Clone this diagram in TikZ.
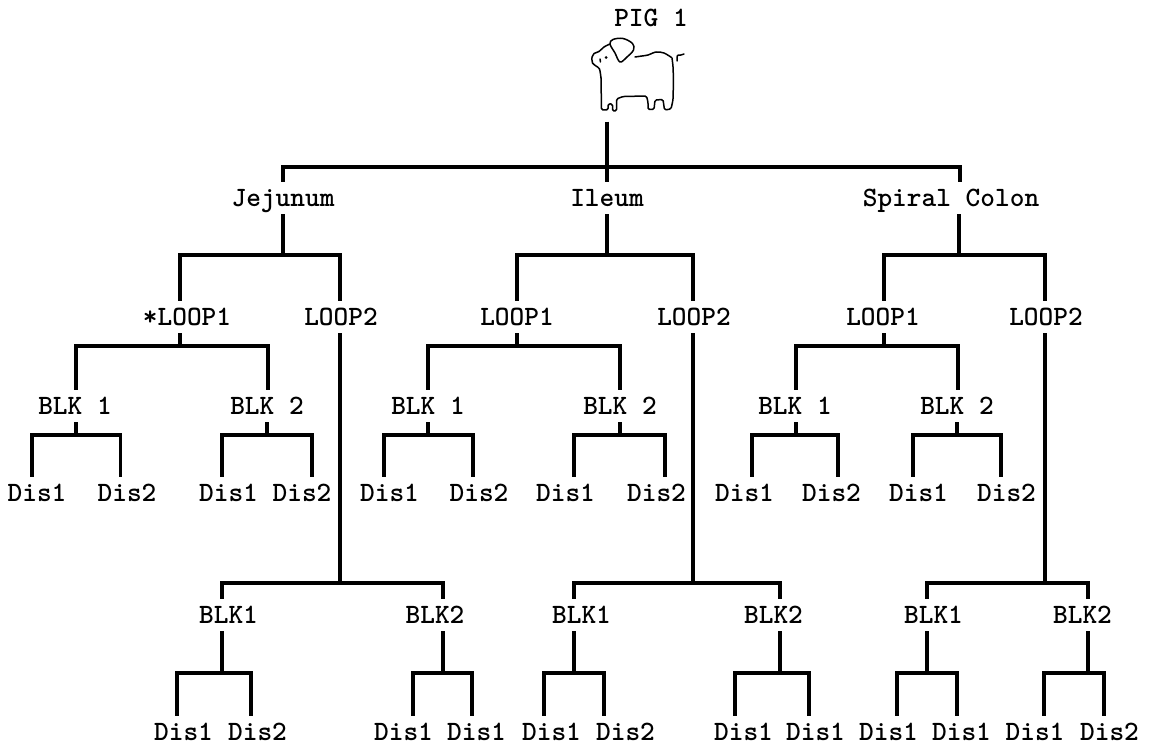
\documentclass[tikz,border=0pt]{standalone}
\begin{document}
\newcommand\kid[5]{\draw[tree] ([xshift=#2pt]#1.south) -- ++(0,#3) -| ([xshift=#5pt]#4.north);}
\begin{tikzpicture}[x=1pt,y=-1pt,
  lbl/.style={font=\fontsize{28}{28}\selectfont\ttfamily\bfseries, inner sep=0pt, text height=17pt, text depth=0pt, outer ysep=7.5pt, outer xsep=0pt},
  tree/.style={line width=3.1pt, line join=miter},
  pig/.style={line width=1.5pt, line cap=round, line join=round}]
\useasboundingbox (0,0) rectangle (1153,746);
% root
\node[lbl] (pigt) at (651,18) {PIG 1};
\draw[pig] plot[smooth cycle, tension=0.6] coordinates {(610,44) (613,39.5) (623,38.5) (632.5,43.5) (633.5,50) (627,57) (620,62) (615,53)};
\draw[pig] plot[smooth, tension=0.5] coordinates {(610,44) (604,47) (599,51.5) (594,53.5) (592,57) (592.5,63) (596,66) (599.5,69) (601,78)};
\draw[pig, rounded corners=1.5pt] (601,78) -- (601.5,110) -- (608,110) -- (608,104) -- (612.5,104) -- (612.5,111) -- (616.5,111) -- (616.5,99) -- (623,96.5) -- (646.5,96) -- (648,102) -- (648,109.5) -- (654,109.5) -- (655,100) -- (663,99.5) -- (664.5,110) -- (671,109) -- (673,100) -- (673.5,80) -- (673,66) -- (672,58);
\draw[pig] plot[smooth] coordinates {(635,57) (642,56) (648,55) (656,52) (664,53) (671.5,57.5)};
\draw[pig] plot[smooth] coordinates {(677,61) (677.5,55.5) (681,55) (684,54)};
\draw[pig] (600,59) -- (600.5,62);
\fill (606,57.5) circle (1.5pt);
\coordinate (pigf) at (607,122);
% level 1
\node[lbl] (J) at (283,198) {Jejunum};
\node[lbl] (I) at (607,198) {Ileum};
\node[lbl] (S) at (951,198) {Spiral Colon};
\draw[tree] (pigf) -- ++(0,45) -| (J.north);
\draw[tree] (pigf) -- ++(0,45) -| ([xshift=9pt]S.north);
\draw[tree] (pigf) -- (I.north);
% level 2
\node[lbl] (JL1) at (187,317) {*LOOP1};
\node[lbl] (JL2) at (341,317) {LOOP2};
\node[lbl] (IL1) at (517,317) {LOOP1};
\node[lbl] (IL2) at (694,317) {LOOP2};
\node[lbl] (SL1) at (883,317) {LOOP1};
\node[lbl] (SL2) at (1046,317) {LOOP2};
\kid{J}{0}{41}{JL1}{-7}
\kid{J}{0}{41}{JL2}{-1}
\kid{I}{0}{41}{IL1}{0}
\kid{I}{0}{41}{IL2}{-1}
\kid{S}{8}{41}{SL1}{1}
\kid{S}{8}{41}{SL2}{-1}
% level 3 (LOOP1 blocks)
\node[lbl] (JB1) at (75,406) {BLK 1};
\node[lbl] (JB2) at (267,406) {BLK 2};
\node[lbl] (IB1) at (428,406) {BLK 1};
\node[lbl] (IB2) at (620,406) {BLK 2};
\node[lbl] (SB1) at (795,406) {BLK 1};
\node[lbl] (SB2) at (957,406) {BLK 2};
\kid{JL1}{-7}{13}{JB1}{1}
\kid{JL1}{-7}{13}{JB2}{1}
\kid{IL1}{0}{13}{IB1}{0}
\kid{IL1}{0}{13}{IB2}{0}
\kid{SL1}{1}{13}{SB1}{1}
\kid{SL1}{1}{13}{SB2}{1}
% level 4 (LOOP1 dissections)
\node[lbl] (JD1) at (37,493) {Dis1};
\node[lbl] (JD2) at (127,493) {Dis2};
\node[lbl] (JD3) at (228.5,493) {Dis1};
\node[lbl] (JD4) at (302,493) {Dis2};
\node[lbl] (ID1) at (389.5,493) {Dis1};
\node[lbl] (ID2) at (479,493) {Dis2};
\node[lbl] (ID3) at (565.5,493) {Dis1};
\node[lbl] (ID4) at (656.5,493) {Dis2};
\node[lbl] (SD1) at (744.5,493) {Dis1};
\node[lbl] (SD2) at (831.5,493) {Dis2};
\node[lbl] (SD3) at (918.5,493) {Dis1};
\node[lbl] (SD4) at (1006.5,493) {Dis2};
\kid{JB1}{1}{13}{JD1}{-5}
\kid{JB1}{1}{13}{JD2}{-6.5}
\kid{JB2}{0}{13}{JD3}{-6.5}
\kid{JB2}{0}{13}{JD4}{10}
\kid{IB1}{0}{13}{ID1}{-5.5}
\kid{IB1}{0}{13}{ID2}{-6}
\kid{IB2}{0}{13}{ID3}{8.5}
\kid{IB2}{0}{13}{ID4}{8.5}
\kid{SB1}{1}{13}{SD1}{7.5}
\kid{SB1}{1}{13}{SD2}{6.5}
\kid{SB2}{0}{13}{SD3}{-5.5}
\kid{SB2}{0}{13}{SD4}{-5.5}
% LOOP2 blocks
\node[lbl] (JC1) at (228.5,615) {BLK1};
\node[lbl] (JC2) at (435,615) {BLK2};
\node[lbl] (IC1) at (581.5,615) {BLK1};
\node[lbl] (IC2) at (773.5,615) {BLK2};
\node[lbl] (SC1) at (933.5,615) {BLK1};
\node[lbl] (SC2) at (1082.5,615) {BLK2};
\kid{JL2}{-1}{250}{JC1}{-6.5}
\kid{JL2}{-1}{250}{JC2}{8}
\kid{IL2}{-1}{250}{IC1}{-7.5}
\kid{IL2}{-1}{250}{IC2}{6.5}
\kid{SL2}{-1}{250}{SC1}{-6.5}
\kid{SL2}{-1}{250}{SC2}{5.5}
% LOOP2 dissections
\node[lbl] (JE1) at (183.5,732) {Dis1};
\node[lbl] (JE2) at (257.5,732) {Dis2};
\node[lbl] (JE3) at (403.5,732) {Dis1};
\node[lbl] (JE4) at (476.5,732) {Dis1};
\node[lbl] (IE1) at (551.5,732) {Dis1};
\node[lbl] (IE2) at (625.5,732) {Dis2};
\node[lbl] (IE3) at (743.5,732) {Dis1};
\node[lbl] (IE4) at (815.5,732) {Dis1};
\node[lbl] (SE1) at (888.5,732) {Dis1};
\node[lbl] (SE2) at (961.5,732) {Dis1};
\node[lbl] (SE3) at (1035,732) {Dis1};
\node[lbl] (SE4) at (1109.5,732) {Dis2};
\kid{JC1}{-6.5}{42}{JE1}{-6.5}
\kid{JC1}{-6.5}{42}{JE2}{-6.5}
\kid{JC2}{8}{42}{JE3}{9.5}
\kid{JC2}{8}{42}{JE4}{-4.5}
\kid{IC1}{-7.5}{42}{IE1}{-7.5}
\kid{IC1}{-7.5}{42}{IE2}{-21.5}
\kid{IC2}{6.5}{42}{IE3}{-8.5}
\kid{IC2}{6.5}{42}{IE4}{-6.5}
\kid{SC1}{-6.5}{42}{SE1}{8.5}
\kid{SC1}{-6.5}{42}{SE2}{-4.5}
\kid{SC2}{5.5}{42}{SE3}{9}
\kid{SC2}{5.5}{42}{SE4}{-5.5}
\end{tikzpicture}
\end{document}
